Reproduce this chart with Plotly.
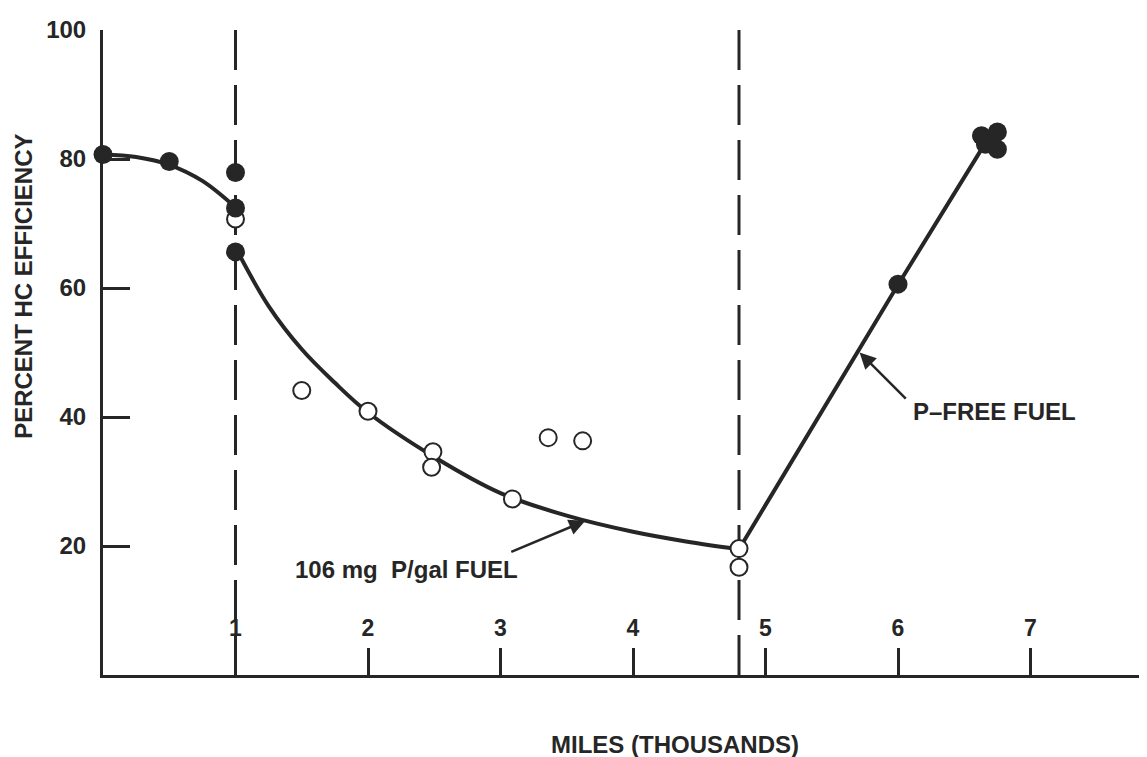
import plotly.graph_objects as go

# ---- data (miles in thousands, percent HC efficiency) ----
phase_changes = [1.0, 4.8]

leaded_start_x = [0.0, 0.5, 1.0, 1.0, 1.0]
leaded_start_y = [80.7, 79.6, 77.9, 72.4, 65.6]

leaded_open_x = [1.0, 1.5, 2.0, 2.49, 2.48, 3.09, 3.36, 3.62, 4.8, 4.8]
leaded_open_y = [70.7, 44.1, 40.9, 34.6, 32.2, 27.3, 36.8, 36.3, 19.6, 16.7]

pfree_x = [6.0, 6.63, 6.75, 6.75, 6.66]
pfree_y = [60.6, 83.6, 84.2, 81.5, 82.3]

curve_a_x = [0.0, 0.25, 0.5, 0.75, 1.0]
curve_a_y = [80.7, 80.3, 79.1, 76.6, 72.5]

curve_b_x = [1.02, 1.25, 1.5, 1.75, 2.0, 2.5, 3.0, 3.5, 4.0, 4.4, 4.8]
curve_b_y = [65.5, 57.2, 50.5, 45.3, 40.7, 33.8, 28.2, 24.7, 22.2, 20.7, 19.5]

pfree_line_x = [4.8, 6.0, 6.66]
pfree_line_y = [19.5, 60.5, 82.5]

x_ticks = [1, 2, 3, 4, 5, 6, 7]
y_ticks = [0, 20, 40, 60, 80, 100]

INK = "#262626"
FONT = "Liberation Sans"

# page layout (the page body adds an 8px offset)
W, H = 1147, 757
OFF = 8
ML, MR, MT, MB = 103 - OFF, OFF, 22 - OFF, 82 + OFF
pw, ph = W - ML - MR, H - MT - MB

fig = go.Figure()

for xs, ys, shape in [(curve_a_x, curve_a_y, "spline"),
                      (curve_b_x, curve_b_y, "spline"),
                      (pfree_line_x, pfree_line_y, "linear")]:
    fig.add_trace(go.Scatter(x=xs, y=ys, mode="lines",
                             line=dict(color=INK, width=4, shape=shape, smoothing=1.0),
                             hoverinfo="skip", showlegend=False, cliponaxis=False))

fig.add_trace(go.Scatter(x=leaded_open_x, y=leaded_open_y, mode="markers",
                         marker=dict(size=17, color="white", line=dict(color=INK, width=2)),
                         showlegend=False, cliponaxis=False))
fig.add_trace(go.Scatter(x=leaded_start_x, y=leaded_start_y, mode="markers",
                         marker=dict(size=19, color=INK, line=dict(width=0)),
                         showlegend=False, cliponaxis=False))
fig.add_trace(go.Scatter(x=pfree_x, y=pfree_y, mode="markers",
                         marker=dict(size=19, color=INK, line=dict(width=0)),
                         showlegend=False, cliponaxis=False))

for xc in phase_changes:
    fig.add_shape(type="line", xref="x", yref="y", x0=xc, x1=xc, y0=0, y1=100,
                  line=dict(color=INK, width=3, dash="40px,15px"), layer="below")

fig.add_annotation(x=3.64, y=23.9, ax=3.07, ay=19.0, xref="x", yref="y",
                   axref="x", ayref="y", text="", showarrow=True,
                   arrowhead=2, arrowsize=1.3, arrowwidth=2.5, arrowcolor=INK)
fig.add_annotation(x=2.29, y=16.4, xref="x", yref="y", text="106 mg  P/gal FUEL",
                   showarrow=False, font=dict(family=FONT, size=24, color=INK, weight="bold"))

fig.add_annotation(x=5.71, y=50.0, ax=6.07, ay=42.6, xref="x", yref="y",
                   axref="x", ayref="y", text="", showarrow=True,
                   arrowhead=2, arrowsize=1.3, arrowwidth=2.5, arrowcolor=INK)
fig.add_annotation(x=6.73, y=40.9, xref="x", yref="y", text="P\u2013FREE FUEL",
                   showarrow=False, font=dict(family=FONT, size=24, color=INK, weight="bold"))

# axis titles placed by screen pixel position, converted to paper coordinates
fig.add_annotation(x=(675 - OFF - ML) / pw, y=(H - MB - (745 - OFF)) / ph,
                   xref="paper", yref="paper", xanchor="center", yanchor="middle",
                   text="MILES (THOUSANDS)", showarrow=False,
                   font=dict(family=FONT, size=24, color=INK, weight="bold"))
fig.add_annotation(x=(24 - OFF - ML) / pw, y=(H - MB - (282 - OFF)) / ph,
                   xref="paper", yref="paper", xanchor="center", yanchor="middle",
                   text="PERCENT HC EFFICIENCY", textangle=-90, showarrow=False,
                   font=dict(family=FONT, size=24, color=INK, weight="bold"))

fig.update_layout(
    width=W, height=H,
    margin=dict(l=ML, r=MR, t=MT, b=MB, pad=0),
    paper_bgcolor="white", plot_bgcolor="white",
    font=dict(family=FONT, color=INK),
    xaxis=dict(range=[0, pw / 132.5], showgrid=False, zeroline=False,
               showline=True, linecolor=INK, linewidth=3,
               tickvals=x_ticks, ticks="inside", ticklen=27, tickwidth=2.5, tickcolor=INK,
               ticklabelposition="inside", ticklabelstandoff=9,
               tickfont=dict(family=FONT, size=23, color=INK, weight="bold")),
    yaxis=dict(range=[0, 100], showgrid=False, zeroline=False,
               showline=True, linecolor=INK, linewidth=3,
               tickvals=y_ticks, ticks="inside", ticklen=27, tickwidth=2.5, tickcolor=INK,
               ticklabelstandoff=9,
               tickfont=dict(family=FONT, size=24, color=INK, weight="bold")),
)

fig.write_html("out.html")
